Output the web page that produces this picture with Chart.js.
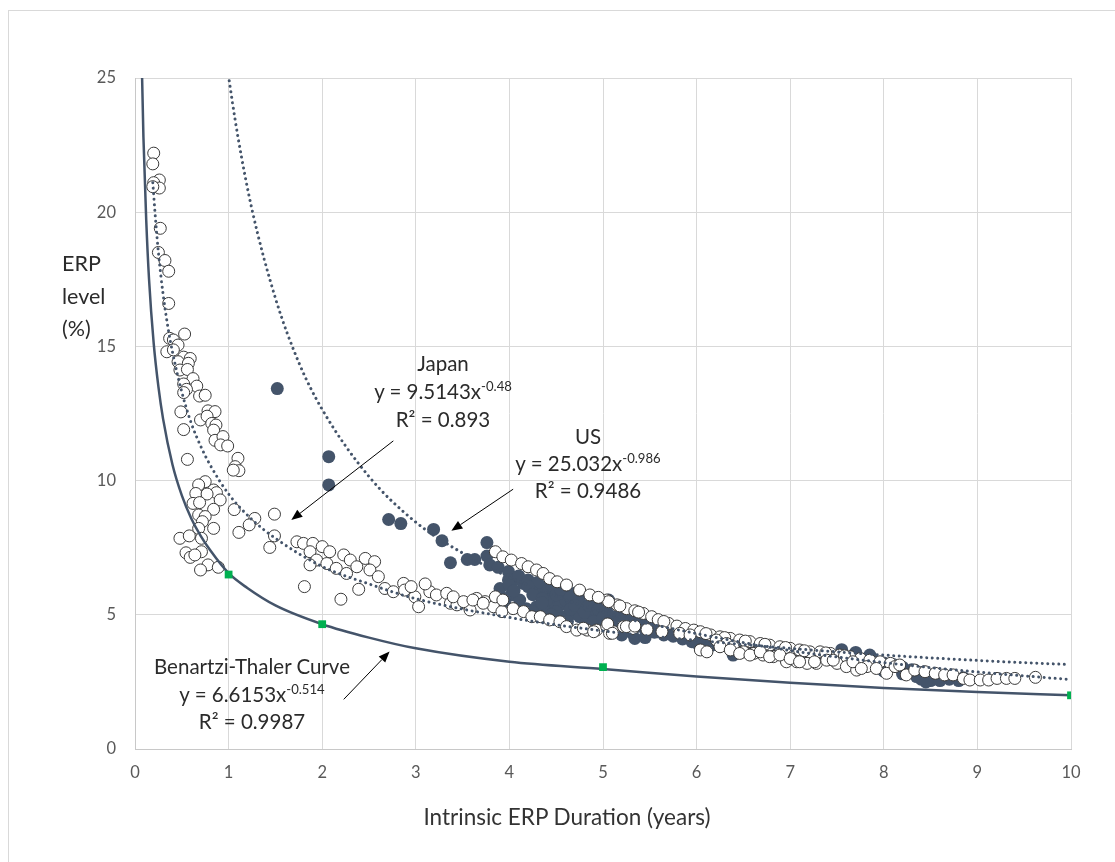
<!DOCTYPE html>
<html lang="en">
<head>
<meta charset="UTF-8">
<title>ERP level vs intrinsic ERP duration</title>
<script src="https://cdn.jsdelivr.net/npm/chart.js"></script>
<style>
    body {
        margin: 0;
        background: #fff;
        font-family: Lato, 'Open Sans', sans-serif;
        overflow: hidden;
    }
    .page {
        position: relative;
        width: 1115px;
        height: 862px;
        overflow: hidden;
    }
    .frame {
        position: absolute;
        left: 8px;
        top: 10px;
        width: 1200px;
        height: 1000px;
        border: 1px solid #d9d9d9;
    }
    .plot {
        position: absolute;
        left: 0;
        top: 0;
        width: 1115px;
        height: 862px;
    }
    .note {
        position: absolute;
        transform: translateX(-50%);
        text-align: center;
        white-space: nowrap;
        color: #2b2b2b;
        font-size: 20.5px;
    }
    .note sup {
        font-size: 0.64em;
        vertical-align: 0.6em;
        line-height: 0;
    }
    .ytitle {
        position: absolute;
        left: 62px;
        top: 247px;
        line-height: 32.5px;
        font-size: 21.5px;
        color: #2b2b2b;
    }
    .xtitle {
        position: absolute;
        left: 567px;
        top: 803px;
        line-height: 28px;
        transform: translateX(-50%);
        font-size: 22.5px;
        color: #333;
        white-space: nowrap;
    }
</style>
</head>
<body>
<div class="page">
    <div class="frame"></div>
    <div class="plot"><canvas id="chart"></canvas></div>

    <div class="ytitle">ERP<br>level<br>(%)</div>
    <div class="xtitle">Intrinsic ERP Duration (years)</div>

    <div class="note" style="left:443px; top:349px; line-height:28px;">
        Japan<br>y = 9.5143x<sup>-0.48</sup><br>R² = 0.893
    </div>
    <div class="note" style="left:588px; top:423px; line-height:27px;">
        US<br>y = 25.032x<sup>-0.986</sup><br>R² = 0.9486
    </div>
    <div class="note" style="left:252px; top:653px; line-height:27.5px;">
        Benartzi-Thaler Curve<br>y = 6.6153x<sup>-0.514</sup><br>R² = 0.9987
    </div>
</div>

<script>
// axis ranges / ticks
const xTicks = { min: 0, max: 10, step: 1 };
const yTicks = { min: 0, max: 25, step: 5 };

// Japan observations (open circles), [duration, ERP %]
const japanPoints = [
    [0.20,22.2],[0.19,21.8],[0.26,21.2],[0.20,21.1],[0.26,20.9],[0.19,20.95],[0.27,19.4],[0.25,18.5],
    [0.32,18.2],[0.36,17.8],[0.36,16.6],[0.53,15.46],[0.37,15.3],[0.41,15.24],[0.46,15.05],[0.34,14.8],
    [0.41,14.87],[0.52,14.6],[0.59,14.55],[0.46,14.43],[0.57,14.37],[0.48,14.12],[0.56,14.14],[0.62,13.8],
    [0.66,13.52],[0.52,13.6],[0.55,13.4],[0.52,13.28],[0.69,13.15],[0.75,13.18],[0.49,12.56],[0.78,12.6],
    [0.855,12.57],[0.70,12.26],[0.77,12.4],[0.82,12.13],[0.865,12.07],[0.52,11.9],[0.84,11.88],[0.855,11.5],
    [0.94,11.64],[0.915,11.33],[0.99,11.29],[0.56,10.79],[1.10,10.83],[1.07,10.52],[1.11,10.37],[1.05,10.39],
    [0.75,9.96],[0.68,9.84],[0.84,9.65],[0.87,9.55],[0.65,9.52],[0.77,9.5],[0.91,9.28],[0.62,9.15],
    [0.69,9.18],[0.84,8.93],[0.68,8.72],[0.75,8.66],[0.72,8.47],[0.84,8.22],[0.68,8.22],[0.48,7.85],
    [0.58,7.94],[0.71,7.85],[0.545,7.31],[0.59,7.14],[0.71,7.35],[0.64,7.23],[0.78,6.86],[0.70,6.67],
    [0.89,6.77],[1.06,8.92],[1.28,8.59],[1.22,8.35],[1.11,8.07],[1.49,8.75],[1.49,7.94],[1.44,7.51],
    [1.81,6.05],[2.20,5.58],[2.39,5.95],
    [1.73,7.72],[1.80,7.66],[1.90,7.66],[2.0,7.54],[2.08,7.35],[2.23,7.23],[2.30,7.04],[2.46,7.1],
    [2.56,6.98],[1.87,7.35],[1.94,7.04],[2.05,6.91],[2.15,6.73],[2.26,6.54],[2.37,6.79],[2.51,6.67],
    [1.87,6.86],[2.60,6.42],
    [2.67,5.98],[2.76,5.86],[2.87,6.17],[2.88,5.92],[2.99,5.67],[3.03,5.30],[3.15,5.86],[3.22,5.74],
    [3.33,5.80],[3.37,5.43],[3.44,5.37],[3.53,5.43],[3.58,5.18],[3.65,5.61],[3.74,5.49],[3.83,5.30],
    [3.85,5.67],[3.92,5.12],[3.40,5.67],[3.51,5.49],[3.61,5.55],[3.72,5.43],[3.93,5.55],[4.04,5.23],
    [4.15,5.12],[4.24,4.93],[4.33,4.93],[4.43,4.81],[4.54,4.74],[4.61,4.56],[4.72,4.43],[4.83,4.43],
    [4.93,4.43],[5.04,4.56],[5.11,4.37],[5.22,4.56],[5.32,4.49],[4.79,4.5],[4.9,4.37],[5.07,4.31],
    [3.1,6.15],[2.95,6.05],
    [3.85,7.35],[3.93,7.16],[4.02,7.04],[4.13,6.91],[4.20,6.79],[4.29,6.67],[4.36,6.54],[4.43,6.35],
    [4.51,6.23],[4.61,6.11],[4.75,5.92],[4.86,5.74],[5.04,5.55],[5.15,5.37],[5.25,5.23],[5.06,5.49],
    [5.18,5.33],[5.34,5.15],[5.43,5.05],[5.52,4.93],[5.59,4.82],[5.70,4.68],[5.79,4.58],[5.88,4.49],
    [5.97,4.43],[6.04,4.37],[6.15,4.25],[6.25,4.18],[6.36,4.12],[6.46,4.06],[6.57,4.0],[6.68,3.93],
    [6.78,3.87],[6.89,3.81],[7.0,3.75],[7.10,3.69],[7.21,3.62],[7.32,3.62],[7.43,3.56],[7.53,3.50],
    [7.64,3.44],[7.75,3.37],[7.85,3.31],[7.96,3.25],[8.07,3.19],[4.95,5.65],[5.38,5.1],[5.65,4.75],
    [6.1,4.3],[6.3,4.15],[6.52,4.02],[6.73,3.9],[6.95,3.78],[7.15,3.66],[7.38,3.58],[7.58,3.47],
    [5.05,4.66],[5.10,4.31],[5.25,4.56],[5.34,4.58],[5.47,4.45],[5.63,4.37],[5.82,4.31],[5.93,4.25],
    [6.04,3.69],[6.11,3.62],[6.21,4.06],[6.32,3.93],[6.39,3.81],[6.50,3.62],[6.61,3.56],[6.71,3.50],
    [6.82,3.44],[6.96,3.25],[7.07,3.25],[7.18,3.19],[7.28,3.19],[7.39,3.31],[7.50,3.19],[7.60,3.07],
    [7.71,2.94],[7.82,3.07],[7.92,3.0],[8.03,2.82],[8.12,3.07],[6.25,3.81],[6.36,3.69],[6.46,3.56],
    [6.57,3.50],[6.68,3.62],[6.78,3.44],[6.89,3.50],[7.0,3.37],[7.10,3.25],[7.46,3.31],[7.26,3.25],
    [7.67,3.25],[7.76,3.0],[8.17,3.13],[8.24,2.76],[8.33,2.94],[8.44,2.88],[8.55,2.82],[8.65,2.76],
    [8.74,2.76],[8.85,2.63],[8.92,2.57],[9.03,2.57],[9.12,2.57],[9.21,2.63],[9.31,2.63],[9.40,2.63],
    [9.62,2.67]
];

// US observations (filled circles)
const usPoints = [
    [1.52,13.43],[2.07,10.89],[2.07,9.84],[2.71,8.55],[2.84,8.40],[3.19,8.18],[3.28,7.76],[3.37,6.94],
    [3.55,7.06],[3.63,7.06],[3.76,7.69],[3.76,7.19],[3.79,6.86],[3.88,6.77],[3.99,6.61],[3.90,5.98],
    [3.99,6.30],[4.02,5.74],[3.95,5.61],[4.15,6.17],[4.30,5.95],[4.33,6.05],[4.11,5.55],[4.18,5.23],
    [4.29,5.30],[4.40,5.86],[4.47,5.67],[4.43,5.37],[4.54,5.37],[4.36,5.23],[4.60,5.55],[4.67,5.43],
    [4.58,4.93],[4.68,5.05],[4.75,5.43],[4.83,5.24],[4.90,5.12],[4.97,4.99],[4.75,4.93],[4.83,4.81],
    [5.04,5.12],[5.11,4.93],[5.18,4.81],[5.25,4.62],[5.32,4.56],[5.11,4.56],[5.25,4.43],[5.34,4.12],
    [5.06,5.55],[4.97,5.43],[4.05,6.3],[4.1,6.45],[4.2,6.3],[4.3,6.2],[4.45,6.1],[4.6,5.9],
    [4.7,5.8],[4.8,5.6],[4.9,5.5],[5.0,5.3],[4.5,5.1],[4.9,4.75],[5.0,4.7],[4.65,5.2],[4.4,5.55],
    [4.0,6.1],[4.05,5.9],[4.2,6.05],[4.25,5.75],[4.35,5.6],[4.5,5.75],[4.55,5.95],[4.65,5.65],
    [4.7,5.35],[4.8,5.1],[4.85,5.35],[4.95,5.2],[5.0,4.9],[5.05,4.75],[5.15,4.65],[5.2,5.0],
    [5.3,4.8],[5.35,4.55],[4.45,5.0],[4.55,4.85],[4.25,5.1],[4.1,5.3],[3.95,5.45],[4.35,5.45],
    [4.62,4.75],[5.2,4.25],[5.5,4.75],[5.6,4.65],[5.7,4.55],
    [5.4,4.7],[5.5,4.6],[5.6,4.5],[5.7,4.42],[5.8,4.35],[5.9,4.25],[6.0,4.15],[6.1,4.1],
    [5.45,4.45],[5.55,4.35],[5.65,4.25],[5.75,4.2],[5.85,4.1],[5.95,4.0],[6.05,4.05],
    [6.2,4.0],[6.3,3.95],[6.4,3.9],[6.5,3.85],[6.6,3.8],[6.7,3.75],[6.8,3.7],[6.9,3.65],
    [7.0,3.6],[7.1,3.55],[7.2,3.5],[7.3,3.45],[7.4,3.45],[7.5,3.4],[7.6,3.35],[7.7,3.3],
    [7.8,3.3],[7.9,3.25],[8.0,3.2],[8.1,3.15],[8.2,3.05],[8.3,2.95],[8.4,2.85],[8.5,2.75],
    [8.6,2.7],[8.7,2.6],[8.8,2.55],[8.85,2.65],[8.4,2.6],[8.5,2.55],[8.35,2.7],[5.45,4.15],
    [5.3,4.35],[6.39,3.5],[6.0,3.95],[6.15,3.85],[8.45,2.5],[8.6,2.55],[8.0,2.9],[8.2,2.8],
    [7.55,3.7],[7.7,3.6],[7.85,3.5]
];

// Benartzi-Thaler points (green squares)
const btPoints = [[1, 6.5], [2, 4.65], [5, 3.05], [10, 2.0]];

// fitted curves, values
const btCurve = [
    [0.07,26.0],[0.09,22.8],[0.12,19.7],[0.15,17.5],[0.2,15.1],[0.25,13.5],[0.3,12.3],[0.4,10.6],
    [0.5,9.45],[0.6,8.6],[0.7,7.95],[0.8,7.42],[1,6.55],[1.2,6.0],[1.5,5.35],[2,4.65],[2.5,4.15],
    [3,3.75],[4,3.25],[5,2.98],[6,2.7],[7,2.47],[8,2.27],[9,2.12],[10,2.0]
];
const japanCurve = [
    [0.19,21.1],[0.22,19.7],[0.25,18.5],[0.3,16.95],[0.35,15.75],[0.4,14.8],[0.5,13.3],[0.6,12.15],
    [0.7,11.3],[0.8,10.6],[1,9.5],[1.25,8.55],[1.5,7.85],[2,6.8],[2.5,6.15],[3,5.6],[4,4.9],
    [5,4.4],[6,4.05],[7,3.75],[8,3.5],[9,3.3],[9.95,3.15]
];
const usCurve = [
    [0.98,25.5],[1.1,22.8],[1.25,20.1],[1.5,16.8],[1.75,14.4],[2,12.65],[2.5,10.15],[3,8.45],
    [3.5,7.3],[4,6.4],[5,5.1],[6,4.3],[7,3.67],[8,3.22],[9,2.87],[9.95,2.6]
];

// callout arrows, tail -> tip in data units
const arrows = [
    { from: [2.76, 11.48], to: [1.67, 8.53] },
    { from: [4.04, 9.68], to: [3.38, 8.13] },
    { from: [2.23, 1.85], to: [2.72, 3.63] }
];

const navy = '#44546a';
const toXY = pts => pts.map(p => ({ x: p[0], y: p[1] }));

const arrowPlugin = {
    id: 'arrows',
    afterDatasetsDraw(chart) {
        const { ctx, scales: { x, y } } = chart;
        ctx.save();
        ctx.strokeStyle = '#000';
        ctx.fillStyle = '#000';
        ctx.lineWidth = 1;
        arrows.forEach(a => {
            const x1 = x.getPixelForValue(a.from[0]), y1 = y.getPixelForValue(a.from[1]);
            const x2 = x.getPixelForValue(a.to[0]), y2 = y.getPixelForValue(a.to[1]);
            const ang = Math.atan2(y2 - y1, x2 - x1);
            const len = 11, half = 4.5;
            const bx = x2 - len * Math.cos(ang), by = y2 - len * Math.sin(ang);
            ctx.beginPath();
            ctx.moveTo(x1, y1);
            ctx.lineTo(bx, by);
            ctx.stroke();
            ctx.beginPath();
            ctx.moveTo(x2, y2);
            ctx.lineTo(bx + half * Math.sin(ang), by - half * Math.cos(ang));
            ctx.lineTo(bx - half * Math.sin(ang), by + half * Math.cos(ang));
            ctx.closePath();
            ctx.fill();
        });
        ctx.restore();
    }
};

const dotted = {
    showLine: true,
    pointRadius: 0,
    borderColor: navy,
    borderWidth: 3,
    borderDash: [0.01, 5.5],
    borderCapStyle: 'round',
    cubicInterpolationMode: 'monotone'
};

new Chart(document.getElementById('chart'), {
    type: 'scatter',
    data: {
        datasets: [
            { label: 'BT points', data: toXY(btPoints), pointStyle: 'rect', pointRadius: 5.5,
              backgroundColor: '#00b050', borderColor: '#00b050', borderWidth: 0, order: 0 },
            Object.assign({ label: 'Japan trend', data: toXY(japanCurve), order: 1 }, dotted),
            Object.assign({ label: 'US trend', data: toXY(usCurve), order: 1 }, dotted),
            { label: 'Benartzi-Thaler', data: toXY(btCurve), showLine: true, pointRadius: 0,
              borderColor: navy, borderWidth: 2.5, cubicInterpolationMode: 'monotone', order: 2 },
            { label: 'Japan', data: toXY(japanPoints), pointRadius: 6, borderWidth: 1,
              borderColor: '#3a3a3a', backgroundColor: '#ffffff', order: 3 },
            { label: 'US', data: toXY(usPoints), pointRadius: 6.5, borderWidth: 0,
              borderColor: navy, backgroundColor: navy, order: 4 }
        ]
    },
    options: {
        responsive: true,
        maintainAspectRatio: false,
        animation: false,
        events: [],
        layout: { padding: { left: 0, right: 44, top: 78, bottom: 0 } },
        plugins: { legend: { display: false }, tooltip: { enabled: false } },
        scales: {
            x: {
                type: 'linear',
                min: xTicks.min, max: xTicks.max,
                ticks: { stepSize: xTicks.step, color: '#595959', padding: 14,
                         font: { family: 'Lato', size: 16.5 } },
                grid: { color: '#d9d9d9', drawTicks: false },
                border: { color: '#c8c8c8' },
                afterFit(scale) { scale.height = 113; }
            },
            y: {
                min: yTicks.min, max: yTicks.max,
                ticks: { stepSize: yTicks.step, color: '#595959', padding: 19,
                         font: { family: 'Lato', size: 16.5 } },
                grid: { color: '#d9d9d9', drawTicks: false },
                border: { color: '#c8c8c8' },
                afterFit(scale) { scale.width = 135; }
            }
        }
    },
    plugins: [arrowPlugin]
});
</script>
</body>
</html>
